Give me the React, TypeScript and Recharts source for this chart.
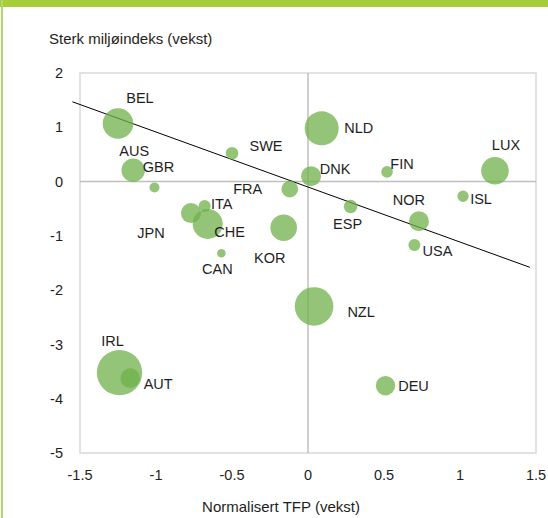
import { ScatterChart, Scatter, XAxis, YAxis, ZAxis, ReferenceLine, ReferenceArea } from 'recharts';

const COUNTRIES = ['BEL', 'AUS', 'GBR', 'SWE', 'FRA', 'ITA', 'JPN', 'CHE', 'KOR', 'CAN', 'NLD', 'DNK', 'FIN', 'LUX', 'ISL', 'ESP', 'NOR', 'USA', 'IRL', 'AUT', 'NZL', 'DEU'];
const TFP = [-1.25, -1.15, -1.01, -0.5, -0.12, -0.68, -0.77, -0.66, -0.16, -0.57, 0.09, 0.02, 0.52, 1.23, 1.02, 0.28, 0.73, 0.7, -1.24, -1.17, 0.04, 0.51];
const MILJO = [1.07, 0.21, -0.11, 0.52, -0.14, -0.45, -0.58, -0.78, -0.85, -1.32, 0.98, 0.1, 0.18, 0.2, -0.27, -0.46, -0.73, -1.17, -3.52, -3.62, -2.3, -3.76];
const BUBBLE = [234, 137, 25, 40, 69, 36, 100, 225, 177, 18, 289, 100, 34, 190, 32, 45, 100, 36, 515, 96, 372, 94];

const TREND_X = [-1.55, 1.46];
const TREND_Y = [1.47, -1.58];

const X_TICKS = [-1.5, -1, -0.5, 0, 0.5, 1, 1.5];
const Y_TICKS = [-5, -4, -3, -2, -1, 0, 1, 2];

// label offsets from bubble centre (px)
const LABEL_OFFSET: Record<string, [number, number]> = {
  BEL: [22, -25], AUS: [1, -19], GBR: [4, -21], SWE: [34, -7], FRA: [-42, 0],
  ITA: [17, -2], JPN: [-40, 20], CHE: [22, 8], KOR: [-14, 30], CAN: [-4, 16],
  NLD: [37, 0], DNK: [24, -7], FIN: [15, -8], LUX: [11, -26], ISL: [18, 3],
  ESP: [-3, 17], NOR: [-10, -21], USA: [23, 6], IRL: [-7, -32], AUT: [28, 6],
  NZL: [47, 6], DEU: [28, 0],
};

const FONT = '"Liberation Sans", Arial, sans-serif';
const TEXT = '#1e1e1e';

const data = COUNTRIES.map((name, i) => ({ name, x: TFP[i], y: MILJO[i], z: BUBBLE[i] }));

const LabelShape = (props: any) => {
  const { cx, cy, payload } = props;
  const [dx, dy] = LABEL_OFFSET[payload.name] || [0, 0];
  return (
    <text x={cx + dx} y={cy + dy} textAnchor="middle" dominantBaseline="central"
      fontSize={14.5} fontFamily={FONT} fill={TEXT}>
      {payload.name}
    </text>
  );
};

export default function App() {
  return (
    <div style={{ position: 'absolute', left: 0, top: 0, width: 548, height: 518, background: '#fff', fontFamily: FONT }}>
      <div style={{ position: 'absolute', left: 0, top: 0, width: 548, height: 7, background: '#a6ce39' }} />
      <div style={{ position: 'absolute', left: 1, top: 0, width: 2, height: 518, background: '#b3d66a' }} />
      <div style={{ position: 'absolute', left: 49, top: 30, fontSize: 15, lineHeight: '18px', color: TEXT, whiteSpace: 'nowrap' }}>
        Sterk miljøindeks (vekst)
      </div>
      <div style={{ position: 'absolute', left: 0, width: 562, top: 498, fontSize: 15, lineHeight: '18px', color: TEXT, textAlign: 'center', whiteSpace: 'nowrap' }}>
        Normalisert TFP (vekst)
      </div>
      <div style={{ position: 'absolute', left: 0, top: 0 }}>
        <ScatterChart width={548} height={518} margin={{ top: 73, right: 12, bottom: 25, left: 40 }}>
          <XAxis type="number" dataKey="x" domain={[-1.5, 1.5]} ticks={X_TICKS} allowDataOverflow
            axisLine={false} tickLine={false} tickSize={0} tickMargin={17} height={40}
            tick={{ fontSize: 14.5, fill: TEXT, fontFamily: FONT }} />
          <YAxis type="number" dataKey="y" domain={[-5, 2]} ticks={Y_TICKS} allowDataOverflow
            axisLine={false} tickLine={false} tickSize={0} tickMargin={17} width={40}
            tick={{ fontSize: 14.5, fill: TEXT, fontFamily: FONT }} />
          <ZAxis type="number" dataKey="z" domain={[0, 600]} range={[0, 600 * Math.PI]} />
          <ReferenceArea x1={-1.5} x2={1.5} y1={-5} y2={2} fill="none" stroke="#d9d9d9" strokeWidth={1.5} />
          <ReferenceLine x={0} stroke="#bfbfbf" strokeWidth={1.5} />
          <ReferenceLine y={0} stroke="#bfbfbf" strokeWidth={1.5} />
          <Scatter data={data} fill="#6fb04a" fillOpacity={0.75} isAnimationActive={false} />
          <ReferenceLine
            segment={[{ x: TREND_X[0], y: TREND_Y[0] }, { x: TREND_X[1], y: TREND_Y[1] }]}
            ifOverflow="visible" stroke="#000" strokeWidth={1} />
          <Scatter data={data} shape={<LabelShape />} isAnimationActive={false} />
        </ScatterChart>
      </div>
    </div>
  );
}
